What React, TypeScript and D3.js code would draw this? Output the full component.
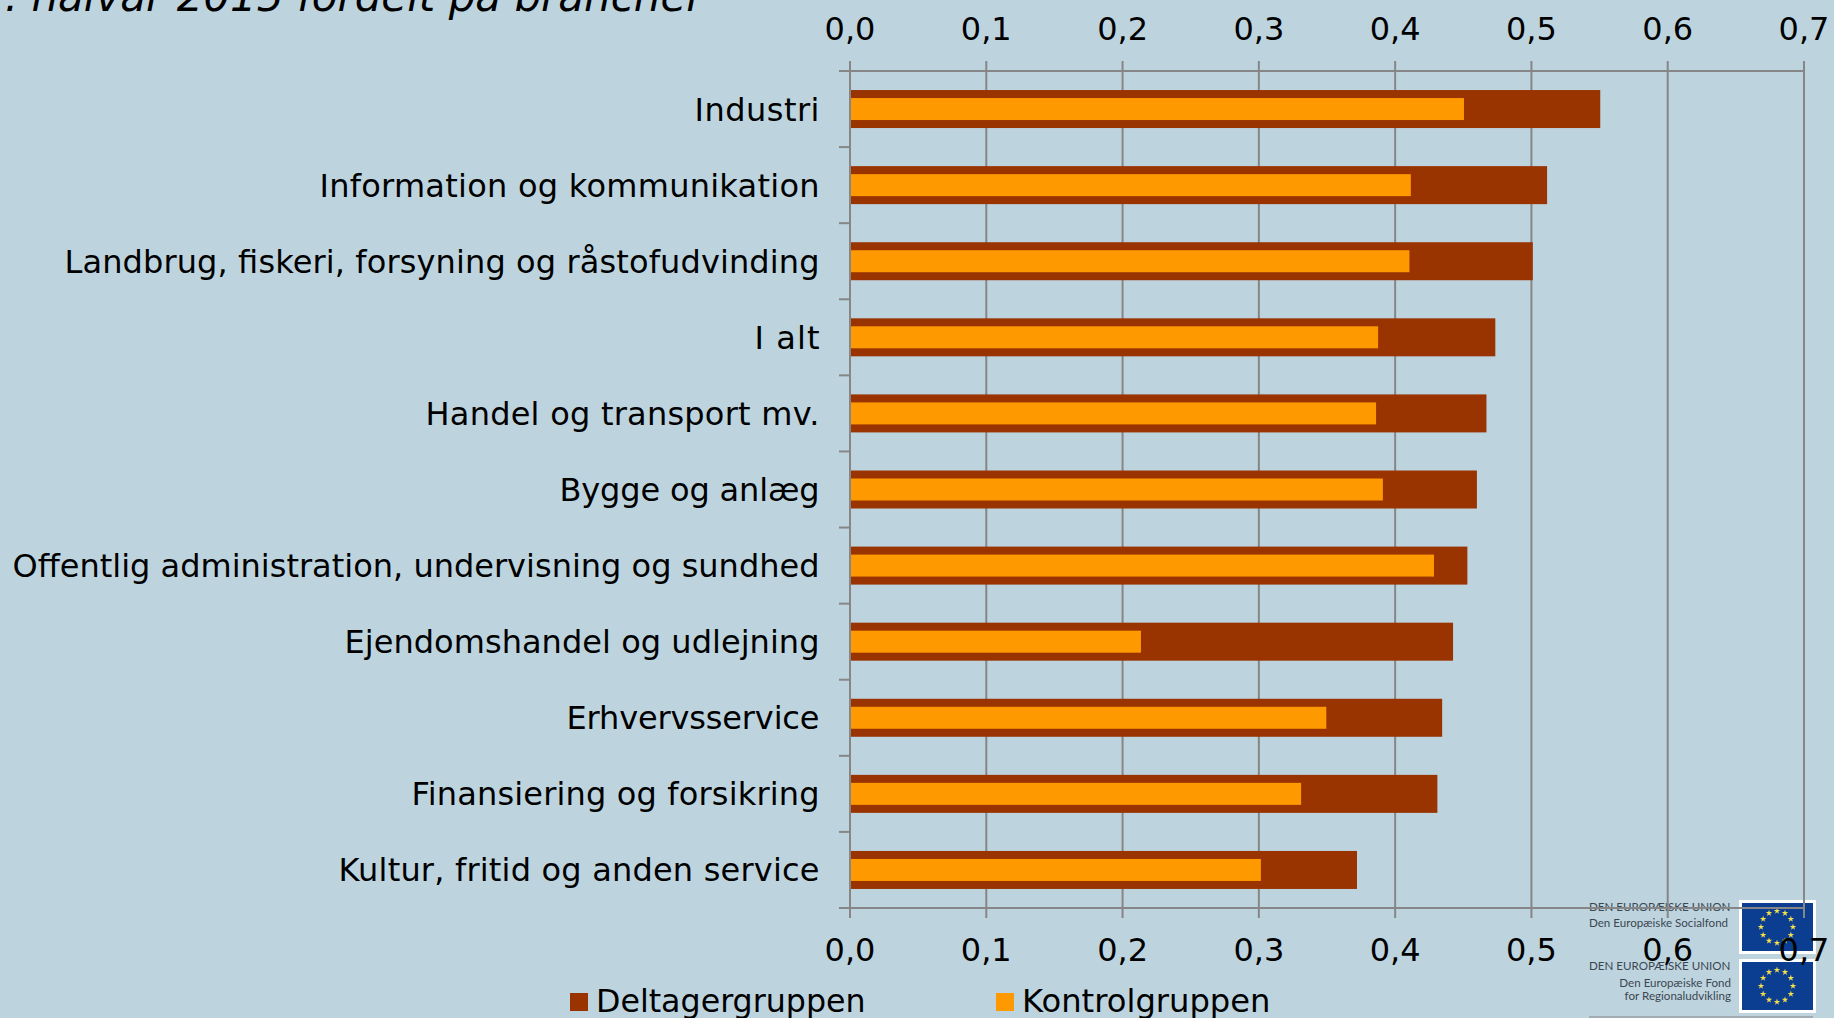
import React from "react";
import * as d3 from "d3";

const categories = [
  "Industri",
  "Information og kommunikation",
  "Landbrug, fiskeri, forsyning og råstofudvinding",
  "I alt",
  "Handel og transport mv.",
  "Bygge og anlæg",
  "Offentlig administration, undervisning og sundhed",
  "Ejendomshandel og udlejning",
  "Erhvervsservice",
  "Finansiering og forsikring",
  "Kultur, fritid og anden service",
];
const deltager = [0.5505, 0.5115, 0.501, 0.4735, 0.467, 0.46, 0.453, 0.4425, 0.4345, 0.431, 0.372];
const kontrol = [0.4505, 0.4115, 0.4105, 0.3875, 0.386, 0.391, 0.4285, 0.2135, 0.3495, 0.331, 0.3015];
const xTicks = [0, 0.1, 0.2, 0.3, 0.4, 0.5, 0.6, 0.7];
const legendItems = ["Deltagergruppen", "Kontrolgruppen"];
// rendered widths of the labels, so the substitute font spans the same extent as the reference's
const labelWidths = [125, 500, 755, 65, 394, 260, 807, 475, 253, 408, 481];

const BG = "#bdd4df";
const GRID = "#868686";
const DARK = "#993300";
const ORANGE = "#ff9900";
const FONT = "'DejaVu Sans', sans-serif";
const LOGO_FONT = "Lato, sans-serif";

const x = d3.scaleLinear().domain([0, 0.7]).range([850, 1804]);
const y = d3.scaleBand<string>().domain(categories).range([71, 908]);
const fmt = (v: number) => d3.format(".1f")(v).replace(".", ",");
const stars = d3.range(12).map((i) => (i * Math.PI) / 6);
const starPath = d3.symbol().type(d3.symbolStar).size(13);

function Flag({ fy }: { fy: number }) {
  const cx = 1777;
  const cy = fy + 24;
  return (
    <g>
      <rect x={1740.5} y={fy - 1.5} width={74} height={51} fill="#0b3d91" stroke="#ffffff" strokeWidth={3} />
      {stars.map((a, i) => (
        <path
          key={i}
          d={starPath() as string}
          fill="#f5e04a"
          transform={`translate(${cx + 16 * Math.sin(a)},${cy - 16 * Math.cos(a)})`}
        />
      ))}
    </g>
  );
}

export default function App() {
  const barH = 38;
  const innerH = 22;
  return (
    <svg
      width={1834}
      height={1018}
      style={{ position: "fixed", left: 0, top: 0, background: BG, display: "block" }}
    >
      <rect width={1834} height={1018} fill={BG} />
      <text x={-22} y={11} fontFamily={FONT} fontStyle="italic" fontSize={42} fill="#000">
        1. halvår 2015 fordelt på brancher
      </text>

      {/* logo block */}
      <g fontFamily={LOGO_FONT} fill="#3c4650" fontSize={11.6}>
        <text x={1589} y={911}>DEN EUROPÆISKE UNION</text>
        <text x={1589} y={927}>Den Europæiske Socialfond</text>
        <text x={1589} y={970}>DEN EUROPÆISKE UNION</text>
        <text x={1731} y={987} textAnchor="end">Den Europæiske Fond</text>
        <text x={1731} y={1000} textAnchor="end">for Regionaludvikling</text>
      </g>
      <Flag fy={903} />
      <Flag fy={962} />
      <line x1={1589} x2={1813} y1={1017} y2={1017} stroke={GRID} strokeWidth={1} />

      {/* gridlines */}
      {xTicks.map((t) => (
        <line key={t} x1={x(t)} x2={x(t)} y1={61} y2={918} stroke={GRID} strokeWidth={2} />
      ))}
      <line x1={850} x2={1804} y1={71} y2={71} stroke={GRID} strokeWidth={2} />
      <line x1={850} x2={1804} y1={908} y2={908} stroke={GRID} strokeWidth={2} />
      {[...categories.map((c) => y(c) as number), 908].map((p) => (
        <line key={p} x1={839} x2={850} y1={p} y2={p} stroke={GRID} strokeWidth={2} />
      ))}

      {/* bars */}
      {categories.map((c, i) => {
        const cy = (y(c) as number) + y.bandwidth() / 2;
        return (
          <g key={c}>
            <rect x={x(0) + 1} y={cy - barH / 2} width={x(deltager[i]) - x(0) - 1} height={barH} fill={DARK} />
            <rect x={x(0) + 1} y={cy - innerH / 2} width={x(kontrol[i]) - x(0) - 1} height={innerH} fill={ORANGE} />
            <text
              x={819.5}
              y={cy + 11.5}
              textAnchor="end"
              fontFamily={FONT}
              fontSize={32}
              fill="#000"
              textLength={labelWidths[i]}
              lengthAdjust="spacing"
            >
              {c}
            </text>
          </g>
        );
      })}

      {/* tick labels */}
      {xTicks.map((t) => (
        <g key={t} fontFamily={FONT} fontSize={32} fill="#000" textAnchor="middle">
          <text x={x(t)} y={40}>{fmt(t)}</text>
          <text x={x(t)} y={961}>{fmt(t)}</text>
        </g>
      ))}

      {/* legend */}
      <rect x={570} y={993} width={18} height={18} fill={DARK} />
      <text x={596} y={1012} fontFamily={FONT} fontSize={31.7} fill="#000">{legendItems[0]}</text>
      <rect x={996} y={993} width={18} height={18} fill={ORANGE} />
      <text x={1022} y={1012} fontFamily={FONT} fontSize={32.2} fill="#000">{legendItems[1]}</text>
    </svg>
  );
}
